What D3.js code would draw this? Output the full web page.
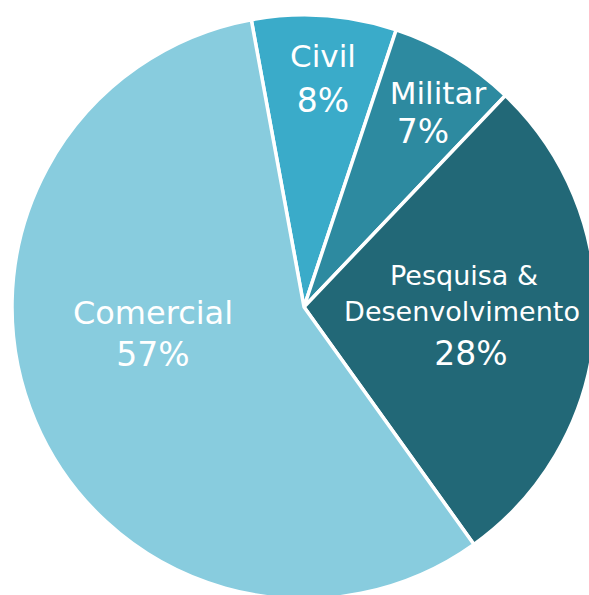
<!DOCTYPE html>
<html>
<head>
<meta charset="utf-8">
<script src="https://cdn.jsdelivr.net/npm/d3@7/dist/d3.min.js"></script>
<style>
  html, body { margin: 0; padding: 0; background: #ffffff; }
  svg { display: block; }
</style>
</head>
<body>
<svg id="chart" width="589" height="595"></svg>
<script>
// ---- data ----
const categories = ["Civil", "Militar", "Pesquisa & Desenvolvimento", "Comercial"];
const values = [8, 7, 28, 57];
const percentLabels = ["8%", "7%", "28%", "57%"];
const nameLines = [["Civil"], ["Militar"], ["Pesquisa &", "Desenvolvimento"], ["Comercial"]];

// ---- layout / style ----
const cx = 304, cy = 307, R = 292;
const startDeg = -10.4;
const colors = d3.scaleOrdinal()
  .domain(categories)
  .range(["#3aabc9", "#2d8aa0", "#226877", "#88ccde"]);

// label layout relative to pie center: name line centers/baselines and percent line
const labelLayout = {
  "Civil": { names: [[19, -240]], nameSize: 31, pct: [19, -195.5] },
  "Militar": { names: [[134, -203]], nameSize: 31, pct: [119, -164] },
  "Pesquisa & Desenvolvimento": { names: [[160, -22], [158, 14]], nameSize: 27, pct: [167, 58] },
  "Comercial": { names: [[-151, 17]], nameSize: 32, pct: [-151, 59] }
};

const svg = d3.select("#chart");
const g = svg.append("g").attr("transform", `translate(${cx},${cy})`);

const start = startDeg * Math.PI / 180;
const pie = d3.pie().sort(null).value(d => d.value)
  .startAngle(start).endAngle(start + 2 * Math.PI);

const data = categories.map((c, i) => ({
  name: c, value: values[i], pct: percentLabels[i], lines: nameLines[i]
}));

const arc = d3.arc().innerRadius(0).outerRadius(R);
const arcs = pie(data);

g.selectAll("path.slice")
  .data(arcs)
  .join("path")
  .attr("class", "slice")
  .attr("d", arc)
  .attr("fill", d => colors(d.data.name))
  .attr("stroke", "#ffffff")
  .attr("stroke-width", 3.5)
  .attr("stroke-linejoin", "round");

const fontFamily = "'DejaVu Sans', Verdana, sans-serif";

arcs.forEach(a => {
  const L = labelLayout[a.data.name];
  a.data.lines.forEach((line, i) => {
    g.append("text")
      .attr("x", L.names[i][0])
      .attr("y", L.names[i][1])
      .attr("text-anchor", "middle")
      .attr("font-family", fontFamily)
      .attr("font-size", L.nameSize)
      .attr("fill", "#ffffff")
      .text(line);
  });
  g.append("text")
    .attr("x", L.pct[0])
    .attr("y", L.pct[1])
    .attr("text-anchor", "middle")
    .attr("font-family", fontFamily)
    .attr("font-size", 33)
    .attr("fill", "#ffffff")
    .text(a.data.pct);
});
</script>
</body>
</html>
